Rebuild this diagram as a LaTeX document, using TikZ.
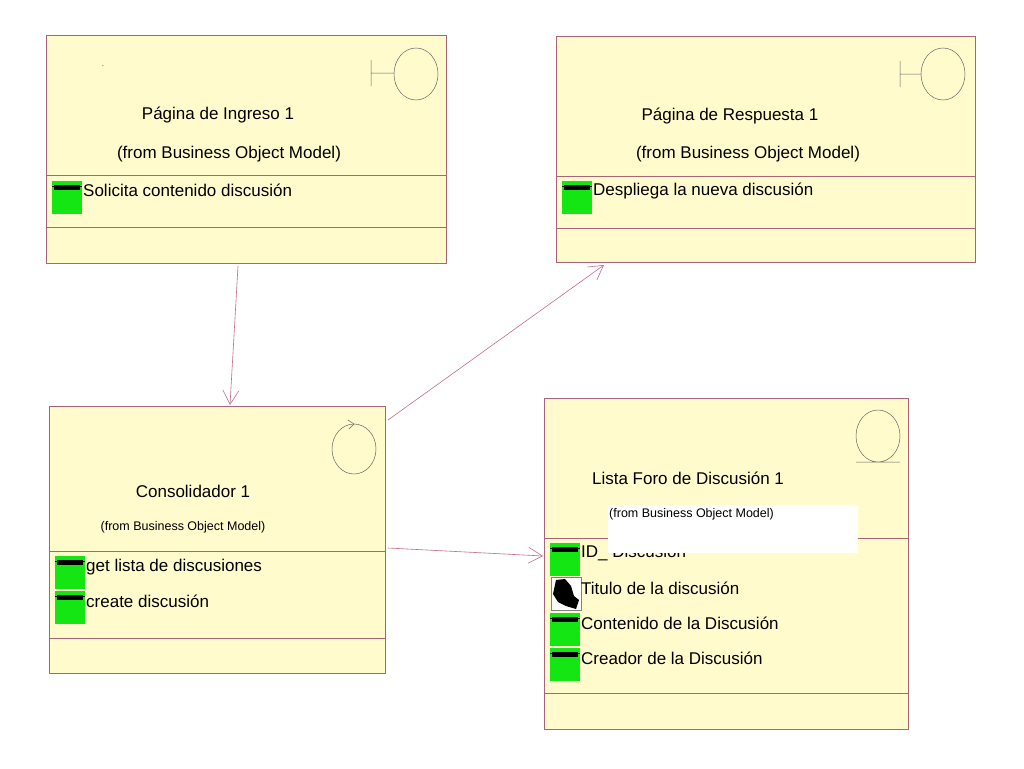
\documentclass[tikz,border=0pt]{standalone}
\usepackage{fontspec}
\setmainfont{Liberation Sans}
\usetikzlibrary{arrows.meta}
\definecolor{cls}{RGB}{255,251,204}
\definecolor{brd}{RGB}{170,100,120}
\definecolor{grn}{RGB}{20,230,20}
\definecolor{lnk}{RGB}{190,110,140}
\begin{document}
\begin{tikzpicture}[x=1pt,y=-1pt,
  box/.style={draw=brd,fill=cls,line width=0.8pt},
  txt/.style={font=\fontsize{17}{19}\selectfont,inner sep=0pt},
  small/.style={font=\fontsize{12.5}{14}\selectfont,inner sep=0pt},
  icn/.style={draw=black!60,line width=0.5pt},
  link/.style={draw=lnk,line width=0.6pt},
  tip/.style={-{Straight Barb[length=14pt,width=16pt]}}]
\useasboundingbox (0,0) rectangle (1024,768);
\fill[white] (0,0) rectangle (1024,768);
\newcommand\opicon[2]{\fill[grn] (#1,#2) rectangle ++(30,33);
  \fill[black] (#1+2,#2+4) rectangle ++(26,5);
  \draw[black,line width=0.8pt] (#1,#2+5) -- ++(30,0);}
% A
\draw[box] (46,35) rectangle (446,263);
\draw[brd] (46,175) -- (446,175) (46,227) -- (446,227);
\draw[icn] (371,60) -- (371,86) (371,73) -- (394,73) (416,74) ellipse (22 and 26);
\node[txt] (a1) at (218,115) {Página de Ingreso 1};
\node[txt] (a2) at (229,154) {(from Business Object Model)};
\node[font=\tiny] (a0) at (103,67) {-};
\opicon{52}{181}
\node[txt,anchor=west] (a3) at (83,190) {Solicita contenido discusión};
% B
\draw[box] (556,36) rectangle (975,262);
\draw[brd] (556,176) -- (975,176) (556,228) -- (975,228);
\draw[icn] (900,61) -- (900,87) (900,74) -- (921,74) (943,74) ellipse (22 and 26);
\node[txt] (b1) at (730,116) {Página de Respuesta 1};
\node[txt] (b2) at (748,154) {(from Business Object Model)};
\opicon{562}{181}
\node[txt,anchor=west] (b3) at (593,191) {Despliega la nueva discusión};
% C
\draw[box] (49,406) rectangle (385,673);
\draw[brd] (49,551) -- (385,551) (49,638) -- (385,638);
\draw[icn] (354,449) ellipse (22 and 25);
\draw[icn] (348,420) -- (354,424) -- (349,429);
\node[txt] (c1) at (193,491) {Consolidador 1};
\node[small] (c2) at (183,527) {(from Business Object Model)};
\opicon{55}{556}
\opicon{55}{591}
\node[txt,anchor=west] (c3) at (86,567) {get lista de discusiones};
\node[txt,anchor=west] (c4) at (86,601) {create discusión};
% D
\draw[box] (544,398) rectangle (908,729);
\draw[brd] (544,538) -- (908,538) (544,693) -- (908,693);
\draw[icn] (878,436) ellipse (22 and 26) (856,462) -- (900,462);
\node[txt] (d1) at (688,478) {Lista Foro de Discusión 1};
\opicon{550}{543}
\node[txt,anchor=west] (d3) at (581,553) {ID\_ Discusión};
\fill[white] (608,505) rectangle (858,553);
\node[small,anchor=west] (d2) at (609,514) {(from Business Object Model)};
\draw[black!50,fill=white] (551,577) rectangle (581,610);
\fill[black] (556,580) -- (565,579) -- (571,586) -- (574,596) -- (579,600) -- (576,609) -- (566,606) -- (558,602) -- (553,594) -- cycle;
\node[txt,anchor=west] (d4) at (581,588) {Titulo de la discusión};
\opicon{550}{613}
\node[txt,anchor=west] (d5) at (581,623) {Contenido de la Discusión};
\opicon{550}{648}
\node[txt,anchor=west] (d6) at (581,658) {Creador de la Discusión};
% links
\coordinate (pa) at (238,266); \coordinate (pc) at (230,405);
\coordinate (pc2) at (388,420); \coordinate (pb) at (604,265);
\coordinate (pc3) at (388,548); \coordinate (pd) at (543,556);
\draw[link,tip] (pa) -- (pc);
\draw[link,tip] (pc2) -- (pb);
\draw[link,tip] (pc3) -- (pd);
\end{tikzpicture}
\end{document}
